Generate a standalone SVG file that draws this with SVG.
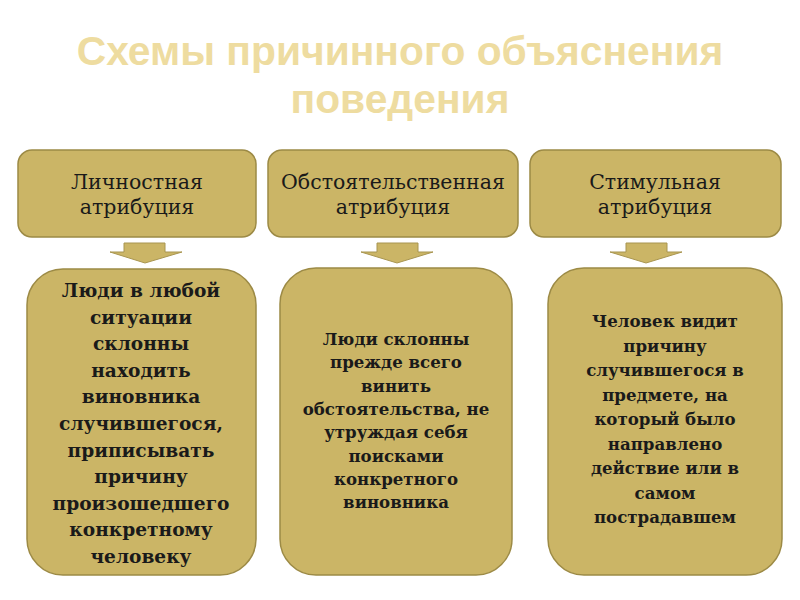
<svg xmlns="http://www.w3.org/2000/svg" width="800" height="600" viewBox="0 0 800 600">
<style>
.box{fill:#CBB566;stroke:#9C8A45;stroke-width:1.5}
.arr{fill:#CBB566;stroke:#A89550;stroke-width:1}
.title{font-family:"Liberation Sans",Arial,sans-serif;font-weight:bold;font-size:40.8px;fill:#EEDCA0;text-anchor:middle}
.hd{font-family:"DejaVu Serif","Liberation Serif",serif;font-size:20.5px;fill:#1a1a1a;text-anchor:middle}
.bd{font-family:"DejaVu Serif","Liberation Serif",serif;font-weight:bold;font-size:16.6px;fill:#1a1a1a;text-anchor:middle}
.bd1{font-size:18.6px}
</style>
<rect width="800" height="600" fill="#ffffff"/>
<g id="title">
<text class="title" x="400" y="65">Схемы причинного объяснения</text>
<text class="title" x="400" y="113">поведения</text>
</g>
<g id="head1"><rect class="box" x="18" y="150" width="238" height="87" rx="14"/>
<text class="hd" x="137" y="189">Личностная</text><text class="hd" x="137" y="214">атрибуция</text></g>
<g id="head2"><rect class="box" x="268" y="150" width="250" height="87" rx="14"/>
<text class="hd" x="393" y="189">Обстоятельственная</text><text class="hd" x="393" y="214">атрибуция</text></g>
<g id="head3"><rect class="box" x="530" y="150" width="251" height="87" rx="14"/>
<text class="hd" x="655" y="189">Стимульная</text><text class="hd" x="655" y="214">атрибуция</text></g>
<g id="connectors">
<path class="arr" d="M124,243 H165 V252 H182 L145,263 L110,252 H124 Z"/>
<path class="arr" d="M377,243 H418 V252 H433 L397,263 L361,252 H377 Z"/>
<path class="arr" d="M626,243 H667 V252 H682 L646,263 L610,252 H626 Z"/>
</g>
<g id="body1"><rect class="box" x="27" y="269" width="229" height="306" rx="36"/>
<text class="bd bd1" x="141" y="297">Люди в любой</text>
<text class="bd bd1" x="141" y="323.6">ситуации</text>
<text class="bd bd1" x="141" y="350.2">склонны</text>
<text class="bd bd1" x="141" y="376.8">находить</text>
<text class="bd bd1" x="141" y="403.4">виновника</text>
<text class="bd bd1" x="141" y="430">случившегося,</text>
<text class="bd bd1" x="141" y="456.6">приписывать</text>
<text class="bd bd1" x="141" y="483.2">причину</text>
<text class="bd bd1" x="141" y="509.8">произошедшего</text>
<text class="bd bd1" x="141" y="536.4">конкретному</text>
<text class="bd bd1" x="141" y="563">человеку</text>
</g>
<g id="body2"><rect class="box" x="280" y="268" width="232" height="307" rx="36"/>
<text class="bd" x="396" y="345">Люди  склонны</text>
<text class="bd" x="396" y="368.3">прежде всего</text>
<text class="bd" x="396" y="391.6">винить</text>
<text class="bd" x="396" y="414.9">обстоятельства, не</text>
<text class="bd" x="396" y="438.2">утруждая себя</text>
<text class="bd" x="396" y="461.5">поисками</text>
<text class="bd" x="396" y="484.8">конкретного</text>
<text class="bd" x="396" y="508">виновника</text>
</g>
<g id="body3"><rect class="box" x="548" y="268" width="234" height="307" rx="36"/>
<text class="bd" x="665" y="327">Человек  видит</text>
<text class="bd" x="665" y="351.5">причину</text>
<text class="bd" x="665" y="376">случившегося в</text>
<text class="bd" x="665" y="400.5">предмете, на</text>
<text class="bd" x="665" y="425">который было</text>
<text class="bd" x="665" y="449.5">направлено</text>
<text class="bd" x="665" y="474">действие или в</text>
<text class="bd" x="665" y="498.5">самом</text>
<text class="bd" x="665" y="523">пострадавшем</text>
</g>
</svg>
